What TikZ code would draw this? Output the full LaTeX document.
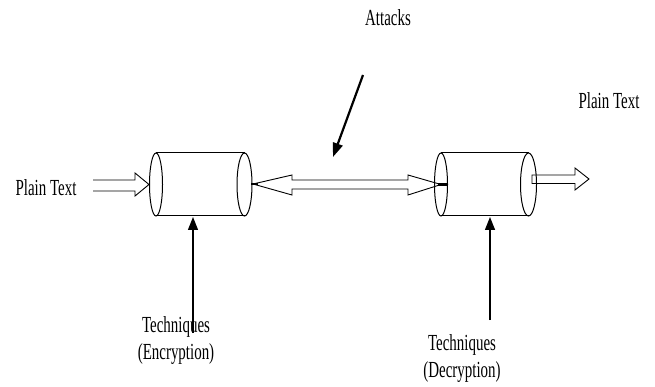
\documentclass[tikz,border=0pt]{standalone}
\usepackage{fontspec}
\setmainfont[FakeStretch=0.65]{Liberation Serif}
\usetikzlibrary{arrows.meta}
\begin{document}
\begin{tikzpicture}[x=1pt,y=-1pt,
  lbl/.style={font=\fontsize{23}{27}\selectfont, inner sep=0pt, align=center},
  cyl/.style={line width=1pt},
  blockarrow/.style={line width=0.9pt, line join=miter},
  feed/.style={line width=1.4pt, -{Triangle[length=13pt,width=10pt]}},
  attack/.style={line width=2.2pt, -{Triangle[length=14pt,width=10pt]}}]
\useasboundingbox (0,0) rectangle (655,387);
% cylinders
\coordinate (c1l) at (156,184.5);
\coordinate (c1r) at (244.5,184.5);
\coordinate (c2l) at (441,184.5);
\coordinate (c2r) at (528.5,184.5);
\draw[cyl] (156,153) -- (244.5,153) (156,216) -- (244.5,216);
\draw[cyl] (c1l) ellipse [x radius=6.5, y radius=31.5];
\draw[cyl] (c1r) ellipse [x radius=7.5, y radius=31.5];
\draw[cyl] (441,153) -- (528.5,153) (441,216) -- (528.5,216);
\draw[cyl] (c2l) ellipse [x radius=6.5, y radius=31.5];
\draw[cyl] (c2r) ellipse [x radius=8, y radius=31.5];
% labels
\node[lbl] (att) at (388,18) {Attacks};
\node[lbl] (ptin) at (46,188) {Plain Text};
\node[lbl] (ptout) at (609,101) {Plain Text};
\node[lbl] (enc) at (176,341) {Techniques\\(Encryption)};
\node[lbl] (dec) at (462,358) {Techniques\\(Decryption)};
% input block arrow
\coordinate (inS) at (93,185);
\draw[blockarrow] (93,180) -- (135,180) -- (135,173) -- (149,184.5) -- (135,196) -- (135,191) -- (93,191);
% double block arrow
\draw[blockarrow] (253,184) -- (292,175) -- (292,180) -- (408,180) -- (408,175) -- (441,184.5)
  -- (408,195) -- (408,189) -- (292,189) -- (292,195) -- cycle;
\draw[line width=2.5pt] (251,184) -- (258,184);
\draw[line width=2.5pt] (438,184.5) -- (447,184.5);
% output block arrow
\draw[blockarrow] (532,175) -- (575,175) -- (575,168) -- (589,179) -- (575,190) -- (575,183.5) -- (532,183.5) -- cycle;
% attack arrow
\coordinate (atS) at (363,75);
\coordinate (atE) at (333,157);
\draw[attack] (atS) -- (atE);
% technique arrows
\coordinate (encS) at (193,333);
\coordinate (encE) at (193,217);
\coordinate (decS) at (490,320);
\coordinate (decE) at (490,217);
\draw[feed] (encS) -- (encE);
\draw[feed] (decS) -- (decE);
\end{tikzpicture}
\end{document}
